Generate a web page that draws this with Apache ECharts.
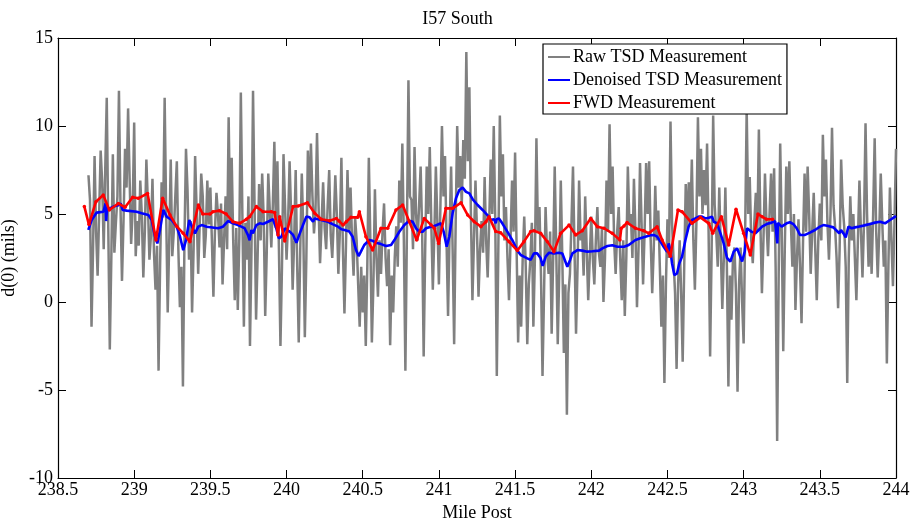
<!DOCTYPE html>
<html>
<head>
<meta charset="utf-8">
<title>I57 South</title>
<script src="https://cdn.jsdelivr.net/npm/echarts@6/dist/echarts.min.js"></script>
<style>
  html, body { margin: 0; padding: 0; background: #fff; }
  #chart { width: 915px; height: 518px; }
</style>
</head>
<body>
<div id="chart"></div>
<script>
// Raw TSD deflection, sampled every 0.01 mile starting at mile post 238.70
const rawStartMile = 238.70;
const rawStepMile = 0.01;
const rawValues = [
  7.2, 5.8, -1.4, 3.0, 8.3, 4.0, 1.5, 5.0, 8.6, 6.8,
  3.0, 7.5, 11.6, 4.2, -2.7, 2.5, 8.4, 2.8, 4.5, 6.0,
  12.0, 5.5, 1.2, 4.6, 8.7, 6.5, 11.0, 7.0, 3.3, 5.2,
  10.2, 2.6, 4.6, 3.2, 6.9, 5.0, 1.4, 4.0, 8.1, 5.6,
  2.4, 3.8, 7.0, 2.8, 0.7, 3.2, -3.9, 2.0, 6.8, 4.8,
  11.6, 5.0, -0.6, 3.4, 8.1, 2.6, 4.0, 6.0, 8.0, 3.0,
  -0.3, 2.0, -4.8, 3.5, 8.7, 6.4, 2.4, 4.6, -0.6, 3.0,
  8.3, 5.2, 1.6, 4.4, 7.3, 6.0, 2.5, 3.8, 6.9, 4.4,
  6.5, 3.5, 0.3, 4.0, 6.2, 5.0, 3.1, 5.6, 1.0, 3.5,
  6.0, 3.0, 10.5, 4.5, 8.2, 3.5, 0.1, 4.2, -0.45, 3.6,
  11.9, 5.0, -1.4, 4.5, 2.4, 6.0, -2.5, 3.0, 12.0, 5.5,
  -1.0, 2.5, 6.7, 3.5, 7.3, 4.8, -0.8, 2.8, 7.3, 5.2,
  3.1, 5.5, 9.1, 4.2, 8.0, 3.0, -2.5, 2.0, 8.4, 5.5,
  2.4, 4.5, 8.0, 5.0, 0.7, 3.5, 7.5, 2.0, -2.3, 3.0,
  7.3, 4.0, -2.0, 2.5, 8.6, 5.5, 9.0, 6.0, 3.9, 5.2,
  9.6, 5.5, 2.2, 4.5, 6.8, 4.2, 3.0, 5.5, 7.5, 3.8,
  2.5, 4.6, 7.2, 5.0, 1.6, 4.0, 8.2, 3.0, -0.65, 3.2,
  7.5, 4.0, 6.5, 3.5, 1.5, 4.8, 3.5, 1.0, -1.4, 2.0,
  -0.6, 1.5, -2.5, 2.0, 8.2, 3.5, -2.3, 1.0, 6.4, 2.5,
  0.3, 3.5, 1.6, 4.0, 5.6, 2.5, 0.9, 3.0, -2.45, 1.5,
  -0.6, 2.5, 4.3, 2.0, 6.9, 4.5, 9.0, 3.5, -3.9, 4.0,
  12.6, 6.0, 5.8, 3.0, 8.8, 5.0, 3.5, 5.5, 7.7, 4.0,
  -3.1, 3.0, 7.7, 5.0, 8.8, 4.5, 0.7, 3.8, 7.7, 4.5,
  1.0, 5.5, 10.0, 6.0, 8.3, 3.5, -0.8, 4.0, 7.7, 3.0,
  -2.4, 4.5, 10.0, 6.5, 8.3, 5.5, 9.2, 7.0, 14.2, 8.0,
  12.2, 5.0, 0.1, 3.5, 6.9, 4.0, 0.3, 3.0, 4.6, 2.8,
  7.1, 3.5, 1.4, 4.5, 8.1, 5.0, 10.0, 4.5, -4.2, 3.0,
  10.6, 6.0, 8.4, 3.5, 5.4, 2.5, 0.1, 3.5, 6.9, 4.0,
  8.5, 3.0, -2.3, 1.5, -1.4, 2.5, 4.85, 2.0, -2.4, 1.0,
  2.4, 4.5, -1.4, 2.5, 9.3, 4.0, 5.4, 1.5, -4.2, 0.5,
  5.4, 2.8, 1.6, 4.0, -1.8, 2.5, 7.7, 3.0, -2.4, 1.8,
  6.9, 2.5, -2.9, 1.0, -6.4, 0.5, 1.6, 4.5, 7.7, 3.0,
  -1.8, 2.0, 6.9, 3.5, 4.0, 1.5, 6.0, 3.0, 0.1, 2.5,
  4.85, 2.5, 1.0, 3.5, 5.4, 2.8, 2.0, 4.2, 0.0, 2.5,
  6.9, 4.0, 10.1, 5.0, 7.7, 3.5, 1.6, 4.0, 5.4, 2.5,
  0.1, 3.5, -0.8, 2.5, 7.7, 4.5, 5.0, 2.5, 7.0, 4.0,
  -0.3, 3.0, 7.9, 4.5, 1.0, 4.0, 7.9, 5.0, 8.0, 3.5,
  0.5, 3.0, 6.6, 3.5, 5.2, 2.0, -1.4, 1.5, -4.6, 1.0,
  4.7, 2.5, 10.25, 4.5, 2.4, 0.5, -3.8, 1.0, 3.5, 0.5,
  -3.4, 2.0, 6.7, 4.0, 6.8, 4.5, 8.1, 3.5, 0.7, 4.5,
  10.5, 6.0, 8.7, 5.0, 7.5, 5.5, 9.0, 4.0, -3.1, 3.0,
  10.6, 5.5, 4.0, 2.0, 6.5, 3.0, -0.4, 2.5, 6.5, 2.0,
  -4.8, 1.5, -1.0, 2.5, 3.1, 0.5, -5.1, 1.0, 3.1, 0.0,
  -2.35, 4.0, 11.0, 5.0, 7.1, 3.5, 2.2, 4.5, 6.2, 4.0,
  9.8, 4.5, 0.5, 3.5, 7.3, 4.5, 2.6, 5.0, 7.3, 4.0,
  7.6, 2.0, -7.9, 1.5, 9.0, 4.0, -2.8, 3.0, 7.7, 5.0,
  8.0, 4.5, 2.0, 5.0, -0.45, 2.5, 4.7, 2.0, -1.2, 3.5,
  7.3, 4.0, 7.7, 5.0, 1.6, 4.0, 6.2, 3.0, 0.1, 3.5,
  5.6, 3.5, 9.5, 6.0, 8.1, 4.5, 2.4, 5.0, 9.9, 5.5,
  4.3, 2.5, -0.36, 3.0, 8.1, 5.5, 4.3, 2.0, -4.6, 2.5,
  6.0, 3.5, 5.0, 2.5, 0.1, 3.5, 6.9, 4.0, 1.4, 4.5,
  10.15, 5.0, 2.0, 4.5, 1.6, 5.0, 9.3, 4.0, 1.4, 4.0,
  7.3, 4.5, 2.0, 3.5, -3.5, 2.0, 6.5, 3.5, 0.9, 4.5,
  8.7
];

// Denoised TSD deflection
const denoisedMiles = [
  238.699, 238.721, 238.754, 238.798, 238.808, 238.812, 238.816, 238.822, 238.841, 238.863,
  238.896, 238.911, 238.924, 238.951, 239.016, 239.049, 239.093, 239.115, 239.137, 239.152,
  239.165, 239.191, 239.213, 239.246, 239.279, 239.301, 239.322, 239.340, 239.362, 239.384,
  239.399, 239.421, 239.443, 239.476, 239.550, 239.583, 239.616, 239.648, 239.681, 239.703,
  239.725, 239.747, 239.758, 239.769, 239.780, 239.802, 239.824, 239.846, 239.878, 239.911,
  239.933, 239.949, 239.966, 239.988, 240.021, 240.043, 240.065, 240.087, 240.108, 240.130,
  240.152, 240.174, 240.185, 240.207, 240.228, 240.272, 240.305, 240.338, 240.360, 240.381,
  240.412, 240.434, 240.456, 240.473, 240.488, 240.510, 240.543, 240.565, 240.587, 240.620,
  240.653, 240.686, 240.708, 240.740, 240.773, 240.806, 240.828, 240.850, 240.871, 240.893,
  240.915, 240.948, 240.970, 241.014, 241.031, 241.051, 241.068, 241.090, 241.112, 241.134,
  241.156, 241.178, 241.200, 241.222, 241.254, 241.287, 241.318, 241.340, 241.362, 241.373,
  241.379, 241.394, 241.416, 241.449, 241.482, 241.515, 241.537, 241.558, 241.580, 241.602,
  241.624, 241.646, 241.668, 241.681, 241.701, 241.723, 241.755, 241.788, 241.810, 241.826,
  241.843, 241.861, 241.876, 241.909, 241.941, 241.974, 242.007, 242.051, 242.073, 242.106,
  242.138, 242.171, 242.215, 242.246, 242.290, 242.322, 242.355, 242.388, 242.410, 242.432,
  242.454, 242.475, 242.497, 242.508, 242.519, 242.530, 242.545, 242.563, 242.578, 242.596,
  242.618, 242.639, 242.661, 242.683, 242.705, 242.727, 242.749, 242.771, 242.793, 242.804,
  242.826, 242.848, 242.869, 242.891, 242.913, 242.935, 242.957, 242.968, 242.990, 243.007,
  243.022, 243.033, 243.051, 243.077, 243.099, 243.121, 243.151, 243.184, 243.206, 243.217,
  243.221, 243.225, 243.249, 243.282, 243.304, 243.326, 243.348, 243.370, 243.403, 243.435,
  243.468, 243.501, 243.523, 243.556, 243.589, 243.611, 243.628, 243.639, 243.655, 243.670,
  243.688, 243.709, 243.731, 243.753, 243.786, 243.819, 243.862, 243.895, 243.928, 243.961,
  243.994, 244.000
];
const denoisedValues = [
  4.10, 4.66, 5.08, 5.13, 5.20, 5.60, 4.60, 5.30, 5.32, 5.42,
  5.50, 5.60, 5.23, 5.19, 5.13, 5.04, 4.94, 4.66, 3.71, 3.33,
  3.90, 5.23, 4.85, 4.66, 4.28, 3.71, 2.95, 3.52, 4.66, 4.18,
  3.90, 4.28, 4.37, 4.28, 4.19, 4.28, 4.60, 4.47, 4.37, 4.28,
  4.19, 3.80, 3.50, 4.09, 3.90, 4.37, 4.47, 4.43, 4.56, 4.70,
  4.18, 3.62, 3.71, 4.18, 4.00, 3.81, 3.37, 3.90, 4.37, 4.85,
  4.81, 4.56, 4.75, 4.70, 4.66, 4.56, 4.41, 4.28, 4.13, 4.09,
  4.00, 3.71, 2.95, 2.61, 2.86, 3.24, 3.52, 3.48, 3.37, 3.29,
  3.18, 3.24, 3.52, 3.99, 4.37, 4.62, 4.56, 4.19, 3.99, 3.99,
  4.19, 4.28, 4.32, 4.47, 4.00, 3.14, 3.71, 5.04, 5.90, 6.36,
  6.50, 6.26, 6.17, 5.83, 5.51, 5.23, 4.94, 4.66, 4.70, 4.47,
  4.70, 4.75, 4.47, 4.00, 3.52, 2.92, 2.67, 2.58, 2.48, 2.39,
  2.76, 2.76, 2.48, 2.05, 2.58, 2.80, 2.76, 2.80, 2.76, 2.39,
  2.00, 2.39, 2.76, 2.95, 2.92, 2.86, 2.88, 2.92, 3.05, 3.18,
  3.22, 3.14, 3.14, 3.24, 3.52, 3.62, 3.71, 3.79, 3.81, 3.71,
  3.43, 3.14, 2.86, 3.33, 2.95, 2.20, 1.53, 1.63, 2.20, 2.58,
  3.52, 4.28, 4.66, 4.75, 4.85, 4.85, 4.75, 4.79, 4.85, 4.56,
  4.47, 3.90, 3.33, 2.50, 2.30, 2.86, 3.05, 3.14, 2.30, 2.86,
  4.19, 4.28, 4.00, 3.90, 4.09, 4.28, 4.43, 4.51, 4.60, 4.51,
  3.33, 4.50, 4.28, 4.47, 4.53, 4.43, 4.19, 3.81, 3.81, 3.94,
  4.09, 4.28, 4.37, 4.32, 4.24, 4.05, 3.90, 4.09, 3.90, 3.67,
  4.28, 4.19, 4.24, 4.28, 4.34, 4.41, 4.51, 4.56, 4.47, 4.66,
  4.85, 4.89
];

// FWD deflection at the test stations
const fwdMiles = [
  238.673, 238.703, 238.749, 238.797, 238.837, 238.896, 238.940, 238.990, 239.027, 239.088,
  239.143, 239.187, 239.235, 239.279, 239.322, 239.366, 239.421, 239.450, 239.498, 239.517,
  239.560, 239.604, 239.648, 239.692, 239.736, 239.758, 239.802, 239.846, 239.900, 239.922,
  239.944, 239.955, 239.988, 240.043, 240.076, 240.137, 240.185, 240.228, 240.283, 240.327,
  240.344, 240.371, 240.392, 240.423, 240.467, 240.478, 240.521, 240.565, 240.620, 240.664,
  240.718, 240.762, 240.806, 240.854, 240.904, 240.948, 240.970, 240.998, 241.046, 241.090,
  241.145, 241.189, 241.232, 241.276, 241.309, 241.329, 241.373, 241.405, 241.460, 241.515,
  241.558, 241.602, 241.624, 241.668, 241.712, 241.755, 241.799, 241.854, 241.898, 241.941,
  241.996, 242.040, 242.084, 242.138, 242.188, 242.197, 242.215, 242.235, 242.290, 242.344,
  242.377, 242.432, 242.465, 242.519, 242.569, 242.596, 242.661, 242.716, 242.771, 242.797,
  242.854, 242.902, 242.950, 243.000, 243.044, 243.094, 243.121, 243.151, 243.190
];
const fwdValues = [
  5.42, 4.40, 5.70, 6.08, 5.23, 5.60, 5.38, 5.95, 5.89, 6.17,
  3.52, 5.89, 4.94, 4.30, 3.90, 3.43, 5.51, 5.00, 5.00, 5.13,
  5.19, 5.00, 4.56, 4.47, 4.70, 4.85, 5.42, 5.13, 5.13, 5.08,
  3.81, 4.85, 3.47, 5.42, 5.45, 5.64, 5.04, 4.70, 4.62, 4.75,
  4.60, 4.37, 4.56, 4.81, 4.81, 5.13, 3.71, 2.95, 4.19, 4.19,
  5.23, 5.51, 4.56, 3.52, 4.75, 4.38, 4.19, 3.33, 5.32, 5.32,
  5.64, 4.94, 4.56, 4.28, 4.56, 4.85, 4.00, 3.94, 3.43, 2.92,
  3.43, 4.00, 4.05, 3.90, 3.43, 2.86, 3.90, 4.37, 3.81, 4.05,
  4.75, 4.28, 4.19, 3.90, 3.52, 4.19, 4.32, 4.51, 4.19, 4.05,
  3.90, 4.28, 3.52, 2.60, 5.23, 5.13, 4.47, 4.81, 4.47, 3.90,
  4.85, 3.24, 5.27, 3.90, 2.67, 5.00, 4.85, 4.70, 4.70
];

// Axis ranges and tick spacing
const xMin = 238.5, xMax = 244, xInterval = 0.5;
const yMin = -10, yMax = 15, yInterval = 5;

const FONT = "'Liberation Serif', 'Times New Roman', serif";

const rawData = rawValues.map((v, i) => [+(rawStartMile + i * rawStepMile).toFixed(3), v]);
const denoisedData = denoisedMiles.map((m, i) => [m, denoisedValues[i]]);
const fwdData = fwdMiles.map((m, i) => [m, fwdValues[i]]);

const chart = echarts.init(document.getElementById('chart'), null, { renderer: 'canvas' });

const boxAxisLine = { show: true, onZero: false, lineStyle: { color: '#000', width: 1.2 } };
const insideTick = { show: true, inside: true, length: 8, lineStyle: { color: '#000', width: 1 } };

chart.setOption({
  animation: false,
  backgroundColor: '#fff',
  title: {
    text: 'I57 South',
    left: 'center',
    top: 10,
    padding: 0,
    textStyle: { fontFamily: FONT, fontSize: 18, fontWeight: 'normal', color: '#000' }
  },
  grid: { left: 58, right: 19, top: 38, bottom: 40, containLabel: false, outerBoundsMode: 'none' },
  legend: {
    data: ['Raw TSD Measurement', 'Denoised TSD Measurement', 'FWD Measurement'],
    orient: 'vertical',
    left: 543,
    top: 44,
    padding: [4, 5, 2, 5],
    itemGap: 5,
    itemWidth: 22,
    itemHeight: 2,
    icon: 'rect',
    selectedMode: false,
    backgroundColor: '#fff',
    borderColor: '#000',
    borderWidth: 1.2,
    textStyle: { fontFamily: FONT, fontSize: 18, color: '#000', lineHeight: 18, padding: [0, 0, 0, -2] }
  },
  xAxis: [
    {
      type: 'value', position: 'bottom',
      min: xMin, max: xMax, interval: xInterval,
      name: 'Mile Post', nameLocation: 'middle', nameGap: 21,
      nameTextStyle: { fontFamily: FONT, fontSize: 18, color: '#000' },
      axisLine: boxAxisLine, axisTick: insideTick,
      axisLabel: { fontFamily: FONT, fontSize: 18, color: '#000', margin: 3, showMinLabel: true, showMaxLabel: true },
      splitLine: { show: false }
    },
    {
      type: 'value', position: 'top',
      min: xMin, max: xMax, interval: xInterval,
      axisLine: boxAxisLine, axisTick: insideTick,
      axisLabel: { show: false }, splitLine: { show: false }
    }
  ],
  yAxis: [
    {
      type: 'value', position: 'left',
      min: yMin, max: yMax, interval: yInterval,
      name: 'd(0) (mils)', nameLocation: 'middle', nameGap: 29,
      nameTextStyle: { fontFamily: FONT, fontSize: 18, color: '#000' },
      axisLine: boxAxisLine, axisTick: insideTick,
      axisLabel: { fontFamily: FONT, fontSize: 18, color: '#000', margin: 5, showMinLabel: true, showMaxLabel: true },
      splitLine: { show: false }
    },
    {
      type: 'value', position: 'right',
      min: yMin, max: yMax, interval: yInterval,
      axisLine: boxAxisLine, axisTick: insideTick,
      axisLabel: { show: false }, splitLine: { show: false }
    }
  ],
  series: [
    {
      name: 'Raw TSD Measurement',
      type: 'line',
      data: rawData,
      showSymbol: false,
      symbol: 'none',
      color: '#808080',
      lineStyle: { color: '#808080', width: 2.5 },
      z: 2
    },
    {
      name: 'Denoised TSD Measurement',
      type: 'line',
      data: denoisedData,
      showSymbol: false,
      symbol: 'none',
      color: '#0000ff',
      lineStyle: { color: '#0000ff', width: 2.6 },
      z: 3
    },
    {
      name: 'FWD Measurement',
      type: 'line',
      data: fwdData,
      symbol: 'circle',
      symbolSize: 3.5,
      showSymbol: true,
      color: '#ff0000',
      itemStyle: { color: '#ff0000' },
      lineStyle: { color: '#ff0000', width: 2.6 },
      z: 4
    }
  ]
});
</script>
</body>
</html>
